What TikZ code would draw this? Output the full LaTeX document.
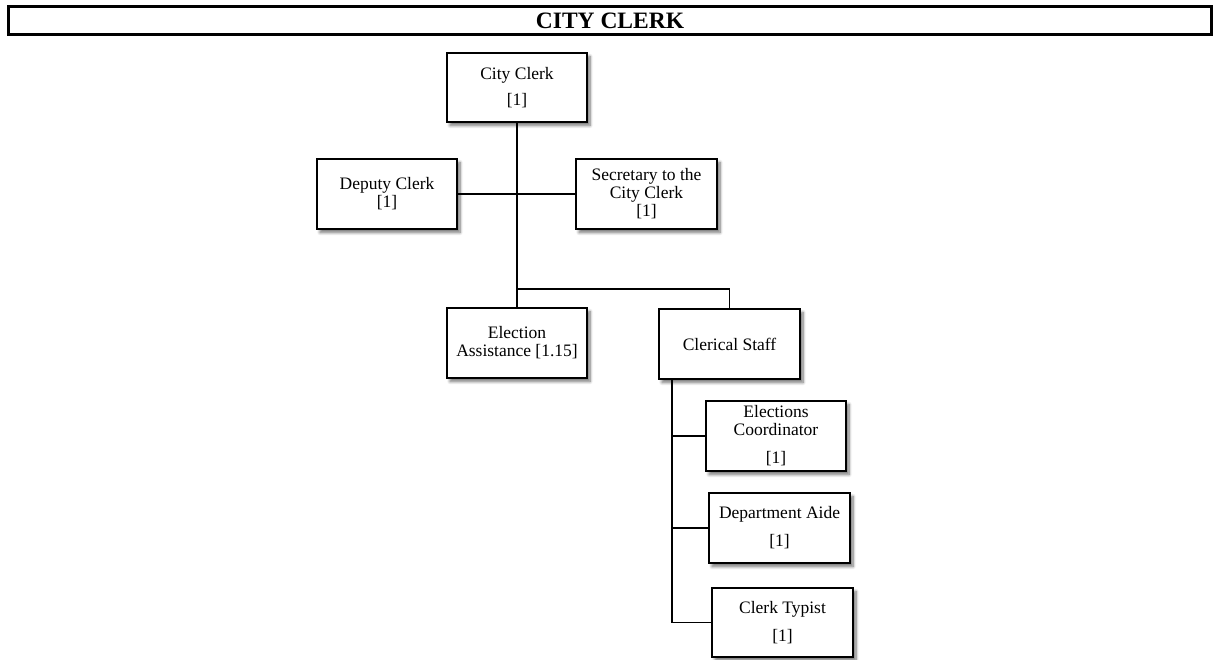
\documentclass[tikz,border=0pt]{standalone}
\usepackage{fontspec}
\setmainfont{Liberation Serif}
\usetikzlibrary{shadows,shadows.blur}
\begin{document}
\begin{tikzpicture}[x=1pt,y=-1pt,
  orgbox/.style={draw=black, line width=1.3pt, fill=white, align=center,
    inner sep=0pt, font=\fontsize{17.5}{18}\selectfont,
    blur shadow={shadow xshift=3pt, shadow yshift=-3.5pt, shadow blur radius=3pt,
      shadow blur steps=8, shadow opacity=55}},
  link/.style={draw=black, line width=1.7pt}]
\useasboundingbox (0,0) rectangle (1215,660);

% title banner
\node[draw=black, line width=3pt, minimum width=1203pt, minimum height=28pt,
  inner sep=0pt, font=\fontsize{23.5}{24}\selectfont\bfseries] (title) at (610,20.5) {CITY CLERK};

% positions
\node[orgbox, minimum width=140pt, minimum height=69pt] (cc) at (517,87.5) {City Clerk\\[8pt]{[1]}};
\node[orgbox, minimum width=140pt, minimum height=70pt] (dep) at (387,194) {Deputy Clerk\\{[1]}};
\node[orgbox, minimum width=141pt, minimum height=70pt] (sec) at (646.5,194) {Secretary to the\\City Clerk\\{[1]}};
\node[orgbox, minimum width=140pt, minimum height=70pt] (ea) at (517,343) {Election\\Assistance [1.15]};
\node[orgbox, minimum width=141pt, minimum height=70pt] (cs) at (729.5,344) {Clerical Staff};
\node[orgbox, minimum width=140pt, minimum height=70pt] (ec) at (776,436) {Elections\\Coordinator\\[10pt]{[1]}};
\node[orgbox, minimum width=141pt, minimum height=70pt] (da) at (779.5,528) {Department Aide\\[10pt]{[1]}};
\node[orgbox, minimum width=141pt, minimum height=69pt] (ct) at (782.5,622.5) {Clerk Typist\\[10pt]{[1]}};

% junction points
\coordinate (j) at (517,289);
\coordinate (k) at (672,379);

% reporting lines
\draw[link] (cc.south) -- (j);
\draw[link] (dep.east) -- (sec.west);
\draw[link] (j) -- (ea.north);
\draw[link] (j) -| (cs.north);
\draw[link] (k) |- (ct.west);
\draw[link] (k |- ec.west) -- (ec.west);
\draw[link] (k |- da.west) -- (da.west);
\end{tikzpicture}
\end{document}
